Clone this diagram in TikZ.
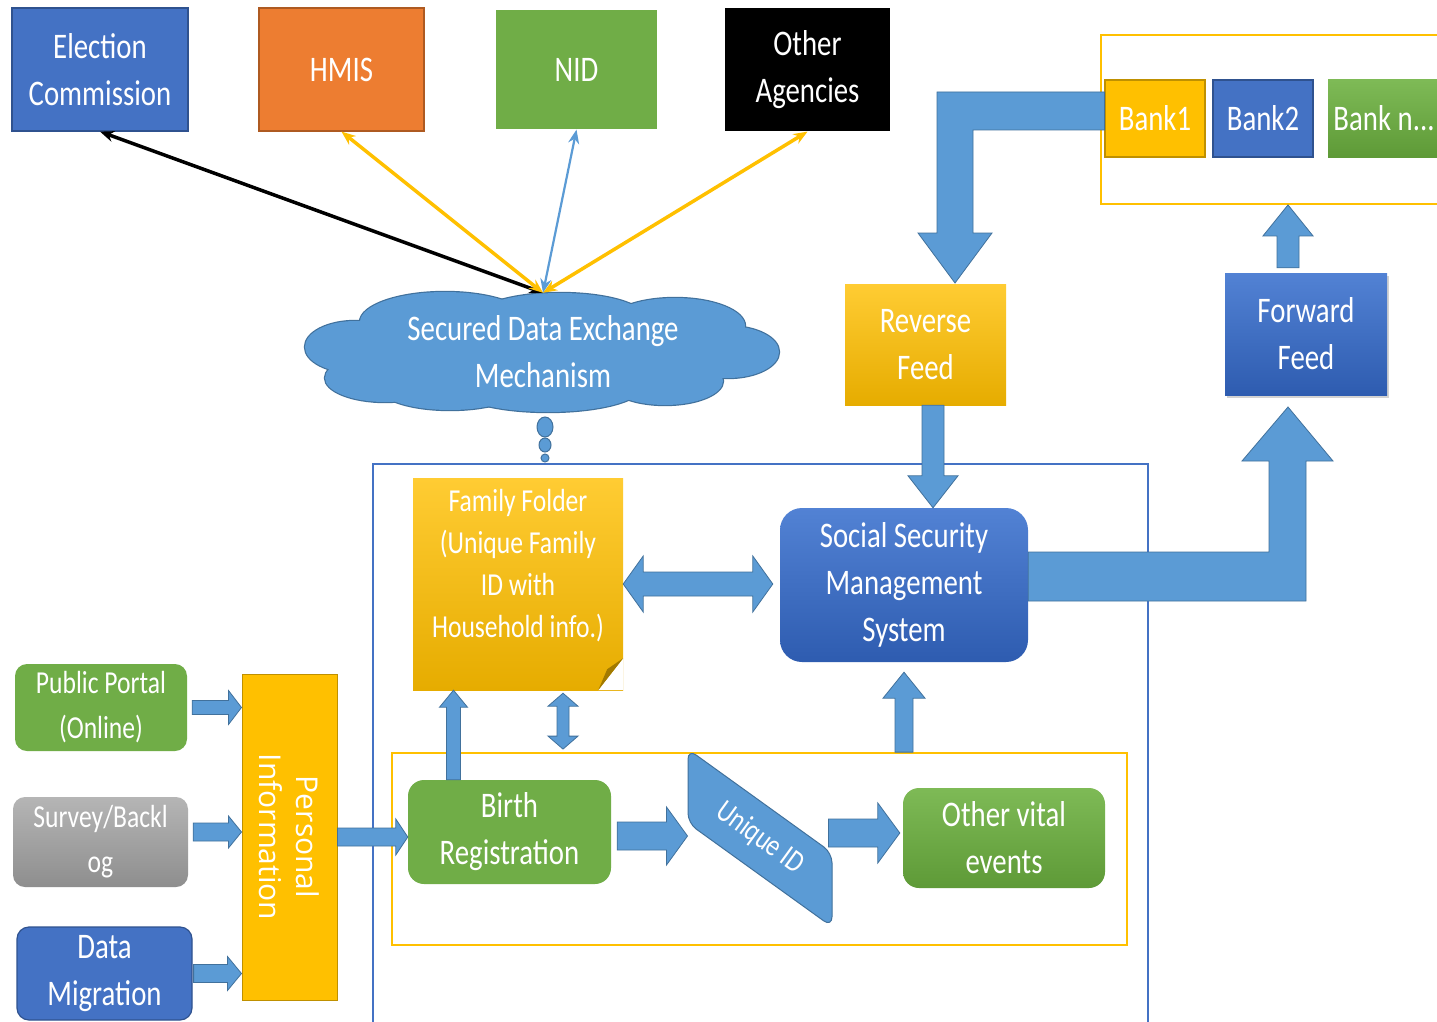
\documentclass[tikz,border=0pt]{standalone}
\usepackage{fontspec}
\setmainfont{Carlito}[FakeStretch=0.8]
\newfontfamily\pifont{Open Sans}
\usepackage{tikz}
\usetikzlibrary{calc,shadows,arrows.meta}

\definecolor{accblue}{HTML}{4472C4}
\definecolor{accdark}{HTML}{2F528F}
\definecolor{skyblue}{HTML}{5B9BD5}
\definecolor{skydark}{HTML}{41719C}
\definecolor{gold}{HTML}{FFC000}
\definecolor{golddark}{HTML}{BF9000}
\definecolor{goldlight}{HTML}{FFCC33}
\definecolor{golddeep}{HTML}{E6AC00}
\definecolor{accorange}{HTML}{ED7D31}
\definecolor{orangedark}{HTML}{AE5A21}
\definecolor{accgreen}{HTML}{70AD47}
\definecolor{greenlight}{HTML}{7EBA56}
\definecolor{greendeep}{HTML}{5E9A37}
\definecolor{greylight}{HTML}{B5B5B5}
\definecolor{greydeep}{HTML}{8E8E8E}
\definecolor{bluelight}{HTML}{5282D4}
\definecolor{bluedeep}{HTML}{2E5CB0}

\newcommand{\bigtxt}{\fontsize{36}{47}\selectfont}
\newcommand{\midtxt}{\fontsize{32}{45}\selectfont}
\newcommand{\foldtxt}{\fontsize{32}{42}\selectfont}
\newcommand{\uidtxt}{\fontsize{31}{40}\selectfont}

% fat arrow: from, to, shaft half width, head half width, head length
\newcommand{\fatarrow}[5]{%
  \coordinate (fa1) at #1;
  \coordinate (fa2) at #2;
  \coordinate (fab) at ($(fa2)!#5pt!(fa1)$);
  \draw[blockarrow] ($(fa1)!#3pt!90:(fa2)$) -- ($(fab)!#3pt!90:(fa2)$)
    -- ($(fab)!#4pt!90:(fa2)$) -- (fa2) -- ($(fab)!#4pt!-90:(fa2)$)
    -- ($(fab)!#3pt!-90:(fa2)$) -- ($(fa1)!#3pt!-90:(fa2)$) -- cycle;}
% same, with a head on both ends
\newcommand{\fatdarrow}[5]{%
  \coordinate (fa1) at #1;
  \coordinate (fa2) at #2;
  \coordinate (fab) at ($(fa2)!#5pt!(fa1)$);
  \coordinate (faa) at ($(fa1)!#5pt!(fa2)$);
  \draw[blockarrow] (fa1) -- ($(faa)!#4pt!90:(fa2)$) -- ($(faa)!#3pt!90:(fa2)$)
    -- ($(fab)!#3pt!90:(fa2)$) -- ($(fab)!#4pt!90:(fa2)$) -- (fa2)
    -- ($(fab)!#4pt!-90:(fa2)$) -- ($(fab)!#3pt!-90:(fa2)$)
    -- ($(faa)!#3pt!-90:(fa2)$) -- ($(faa)!#4pt!-90:(fa2)$) -- cycle;}

\begin{document}
\begin{tikzpicture}[x=1pt,y=-1pt,
    >={Stealth[length=14pt,width=11pt]},
    box/.style={rectangle, inner sep=0pt, align=center, text=white, font=\bigtxt},
    agency/.style={box, minimum height=123pt, line width=1.2pt},
    feed/.style={box, minimum width=161pt, minimum height=121pt},
    bank/.style={box, minimum width=100pt, minimum height=77pt, line width=1.2pt},
    source/.style={box, rounded corners=12pt, minimum width=174pt, minimum height=89pt},
    event/.style={box, rounded corners=16pt, minimum width=203pt, minimum height=104pt},
    frame/.style={rectangle, inner sep=0pt, line width=1.8pt},
    blockarrow/.style={fill=skyblue, draw=skydark, line width=0.8pt},
    link/.style={<->, line width=3.5pt}]

  \path[fill=white, use as bounding box] (0,0) rectangle (1437,1022);

  % frames
  \node (sysframe) [frame, draw=accblue, minimum width=775pt, minimum height=580pt] at (760.5,754) {};
  \node (regframe) [frame, draw=gold, minimum width=735pt, minimum height=192pt] at (759.5,849) {};
  \node (banks) [frame, draw=gold, minimum width=359pt, minimum height=169pt] at (1280.5,119.5) {};

  % agencies
  \node (ec)   [agency, fill=accblue, draw=accdark, minimum width=176pt] at (100,69.5) {Election\\Commission};
  \node (hmis) [agency, fill=accorange, draw=orangedark, minimum width=165pt] at (341.5,69.5) {HMIS};
  \node (nid)  [agency, fill=accgreen, minimum width=161pt, minimum height=119pt] at (576.5,69.5) {NID};
  \node (oa)   [agency, fill=black, minimum width=165pt] at (807.5,69.5) {Other\\Agencies};

  % exchange cloud: outlined lobes, then filled again to hide the inner lines
  \foreach \cx/\cy/\rx/\ry in {355/347/50pt/26pt, 385/378/60pt/24pt, 445/322/85pt/30pt,
      560/318/85pt/25pt, 675/326/70pt/28pt, 728/352/51pt/26pt, 665/381/58pt/24pt,
      548/386/95pt/26pt, 450/388/70pt/22pt, 543/352/200pt/42pt}
    \draw[fill=skyblue, draw=skydark, line width=2.4pt] (\cx,\cy) ellipse [x radius=\rx, y radius=\ry];
  \foreach \cx/\cy/\rx/\ry in {355/347/50pt/26pt, 385/378/60pt/24pt, 445/322/85pt/30pt,
      560/318/85pt/25pt, 675/326/70pt/28pt, 728/352/51pt/26pt, 665/381/58pt/24pt,
      548/386/95pt/26pt, 450/388/70pt/22pt, 543/352/200pt/42pt}
    \fill[skyblue] (\cx,\cy) ellipse [x radius=\rx, y radius=\ry];
  \node (sdem) [box, minimum width=472pt, minimum height=118pt] at (543,352) {Secured Data Exchange\\Mechanism};
  \draw[fill=skyblue, draw=skydark, line width=1pt] (545,427) ellipse [x radius=8pt, y radius=10pt];
  \draw[fill=skyblue, draw=skydark, line width=1pt] (545,445) ellipse [x radius=6pt, y radius=7pt];
  \draw[fill=skyblue, draw=skydark, line width=1pt] (545,458) circle [radius=4pt];

  % feeds and banks
  \node (rf)  [feed, top color=goldlight, bottom color=golddeep] at (925.5,344.5) {Reverse\\Feed};
  \node (fwd) [feed, minimum width=162pt, minimum height=122pt, top color=bluelight, bottom color=bluedeep,
    drop shadow={shadow xshift=2pt, shadow yshift=-3pt, opacity=0.35}] at (1306,334) {Forward\\Feed};
  \node (bank1) [bank, fill=gold, draw=golddark] at (1155,118.5) {Bank1};
  \node (bank2) [bank, fill=accblue, draw=accdark] at (1263,118.5) {Bank2};
  \node (bankn) [bank, minimum width=112pt, top color=greenlight, bottom color=greendeep] at (1384,118.5) {Bank n...};

  % core system
  \node (ssms) [box, rounded corners=22pt, minimum width=248pt, minimum height=154pt,
    top color=bluelight, bottom color=bluedeep] at (904,585) {Social Security\\Management\\System};
  \node (ff) [box, minimum width=210pt, minimum height=212pt, top color=goldlight, bottom color=golddeep] at (518,584) {};
  \node (fftext) [box, font=\foldtxt] at ([yshift=18pt]ff.center) {Family Folder\\(Unique Family\\ID with\\Household info.)};
  \fill[white] (ff.south east) -- ([yshift=32pt]ff.south east) -- ([xshift=-25pt]ff.south east) -- cycle;
  \fill[golddark!85!black] ([xshift=-25pt]ff.south east) -- ([yshift=32pt]ff.south east)
    -- ([xshift=-16pt,yshift=21pt]ff.south east) -- cycle;

  % data sources
  \node (pp) [source, font=\midtxt, fill=accgreen, minimum width=172pt, minimum height=87pt] at (101,707.5) {Public Portal\\(Online)};
  \node (sb) [source, font=\midtxt, top color=greylight, bottom color=greydeep, minimum width=175pt, minimum height=90pt] at (100.5,842) {Survey/Backl\\og};
  \node (dm) [source, fill=accblue, draw=accdark, line width=1.2pt, minimum width=175pt, minimum height=93pt] at (104.5,973.5) {Data\\Migration};
  \node (pi) [box, fill=gold, draw=golddark, line width=1pt, minimum width=95pt, minimum height=326pt] at (289.5,837) {};
  \node (pitext) [box, rotate=-90, font=\pifont\fontsize{30}{37}\selectfont] at (pi.center) {Personal\\Information};

  % registration
  \node (br)  [event, fill=accgreen] at (509.5,832) {Birth\\Registration};
  \node (ove) [event, minimum width=202pt, minimum height=100pt, top color=greenlight, bottom color=greendeep] at (1004,838) {Other vital\\events};
  \node (uid) [rectangle, rounded corners=10pt, minimum width=144pt, minimum height=74pt, inner sep=0pt,
    yslant=-0.72, transform shape, fill=skyblue, draw=skydark, line width=1pt] at (760,838) {};
  \node (uidtext) [box, font=\uidtxt, rotate=-36] at (uid.center) {Unique ID};

  % exchange links
  \draw[link, black] (sdem.north) -- (ec.south);
  \draw[link, gold] (sdem.north) -- (hmis.south);
  \draw[link, skyblue, line width=2.2pt] (sdem.north) -- (nid.south);
  \draw[link, gold] (sdem.north) -- (oa.south);

  % block arrows
  \fatarrow{([xshift=5pt]pp.east)}{(pp.east -| pi.west)}{7}{17}{13}
  \fatarrow{([xshift=5pt,yshift=10pt]sb.east)}{([yshift=10pt]sb.east -| pi.west)}{9}{16}{13}
  \fatarrow{([xshift=1pt]dm.east)}{(dm.east -| pi.west)}{9}{17}{14}
  \fatarrow{(pi.east)}{(br.west |- pi.east)}{9}{18}{12}
  \fatarrow{([xshift=6pt,yshift=-4pt]br.east)}{([yshift=-4pt]br.east -| uid.south west)}{14}{29}{21}
  \fatarrow{([xshift=-4pt,yshift=5pt]ove.west -| uid.north east)}{([xshift=-3pt,yshift=5pt]ove.west)}{14}{30}{22}
  \fatarrow{([xshift=-56pt]br.north)}{([xshift=-56pt]br.north |- ff.south)}{7}{14}{17}
  \fatdarrow{([xshift=45pt,yshift=-3pt]ff.south)}{([xshift=45pt,yshift=3pt]ff.south |- regframe.north)}{6}{15}{13}
  \fatdarrow{(ff.east)}{([xshift=-7pt]ssms.west |- ff.east)}{12}{28}{20}
  \fatarrow{(ssms.south |- regframe.north)}{([yshift=-10pt]ssms.south)}{9}{21}{26}
  \fatarrow{([xshift=7.5pt]rf.south)}{([xshift=7.5pt]rf.south |- ssms.north)}{11}{25}{32}
  \fatarrow{([xshift=-18pt,yshift=5pt]fwd.north)}{([xshift=7.5pt]banks.south)}{11}{25}{31}

  % bent arrows
  \draw[blockarrow] ([yshift=26.5pt]bank1.west) -- (937,92) -- (937,233) -- (918,233) -- (955,283)
    -- (992,233) -- (973,233) -- (973,130) -- ([yshift=-11.5pt]bank1.west) -- cycle;
  \draw[blockarrow] ([yshift=33pt]ssms.east) -- (1269,552) -- (1269,461) -- (1242,461) -- (1288,407)
    -- (1333,461) -- (1306,461) -- (1306,601) -- ([yshift=-16pt]ssms.east) -- cycle;
\end{tikzpicture}
\end{document}
